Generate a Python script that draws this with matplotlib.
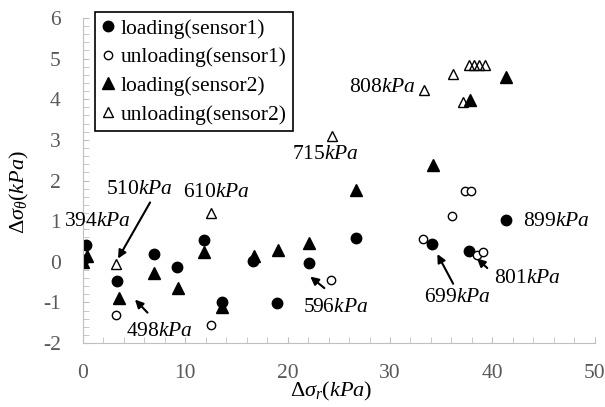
import matplotlib
matplotlib.use("Agg")
import matplotlib.pyplot as plt
from matplotlib.ticker import MultipleLocator

plt.rcParams["font.family"] = "Liberation Serif"
plt.rcParams["mathtext.fontset"] = "custom"
plt.rcParams["mathtext.rm"] = "Liberation Serif"
plt.rcParams["mathtext.it"] = "Liberation Serif:italic"
plt.rcParams["axes.unicode_minus"] = False

# data
s1_load_x = [0, 0.3, 3.3, 6.9, 9.2, 11.8, 13.6, 16.6, 19.0, 22.1, 26.7, 34.1, 37.7, 41.3]
s1_load_y = [0.05, 0.42, -0.46, 0.2, -0.13, 0.54, -1.0, 0.02, -1.02, -0.03, 0.58, 0.45, 0.27, 1.03]
s1_unload_x = [3.2, 12.5, 24.2, 33.2, 36.1, 37.3, 37.9, 38.5, 39.1]
s1_unload_y = [-1.3, -1.55, -0.44, 0.55, 1.12, 1.75, 1.75, 0.17, 0.23]
s2_load_x = [0, 0.4, 3.5, 6.9, 9.3, 11.8, 13.6, 16.7, 19.1, 22.1, 26.7, 34.2, 37.8, 41.3]
s2_load_y = [0.0, 0.15, -0.9, -0.28, -0.65, 0.23, -1.12, 0.15, 0.3, 0.47, 1.77, 2.37, 3.98, 4.55]
s2_unload_x = [3.2, 12.5, 24.3, 33.3, 36.2, 37.1, 37.7, 38.2, 38.7, 39.3]
s2_unload_y = [-0.05, 1.21, 3.1, 4.23, 4.62, 3.94, 4.84, 4.84, 4.84, 4.84]

# pressure labels: text, position
labels = ["394", "510", "610", "498", "715", "808", "596", "699", "801", "899"]
label_x = [1.4, 5.5, 13.0, 7.5, 23.7, 29.3, 24.7, 36.6, 43.4, 46.3]
label_y = [0.98, 1.77, 1.7, -1.72, 2.63, 4.3, -1.13, -0.88, -0.4, 0.99]
# arrows: tail -> head
arrow_tail = [(6.7, 1.52), (6.5, -1.3), (23.8, -0.69), (36.3, -0.6), (39.7, -0.2)]
arrow_head = [(3.3, 0.02), (4.9, -0.88), (22.0, -0.32), (34.5, 0.25), (38.3, 0.13)]

fig = plt.figure(figsize=(6.05, 4.07), dpi=100)
ax = fig.add_axes([0.137, 0.157, 0.846, 0.799])

ax.plot(s1_load_x, s1_load_y, "o", color="black", ms=7.5, label="loading(sensor1)")
ax.plot(s1_unload_x, s1_unload_y, "o", mfc="white", mec="black", ms=6, mew=1,
        label="unloading(sensor1)")
ax.plot(s2_load_x, s2_load_y, "^", color="black", ms=8, label="loading(sensor2)")
ax.plot(s2_unload_x, s2_unload_y, "^", mfc="none", mec="black", ms=7, mew=1,
        label="unloading(sensor2)")

for t, x, y in zip(labels, label_x, label_y):
    ax.text(x, y, t + "$kPa$", fontsize=15.5, ha="center", va="center", clip_on=False)

for tail, head in zip(arrow_tail, arrow_head):
    ax.annotate("", xy=head, xytext=tail,
                arrowprops=dict(arrowstyle="-|>", color="black", lw=1.5, mutation_scale=12))

ax.set_xlim(0, 50)
ax.set_ylim(-2, 6)
ax.xaxis.set_major_locator(MultipleLocator(10))
ax.xaxis.set_minor_locator(MultipleLocator(2))
ax.yaxis.set_major_locator(MultipleLocator(1))
ax.yaxis.set_minor_locator(MultipleLocator(0.2))

gray = "#bfbfbf"
for side in ["top", "right"]:
    ax.spines[side].set_visible(False)
for side in ["left", "bottom"]:
    ax.spines[side].set_color(gray)
ax.tick_params(which="both", direction="in", color=gray, length=4, labelcolor="#595959",
               labelsize=15.5)
ax.tick_params(axis="x", pad=15)
ax.tick_params(axis="y", pad=16)

ax.set_xlabel(r"$\Delta\sigma_r(kPa)$", fontsize=16, va="center")
ax.xaxis.set_label_coords(0.485, -0.148)
ax.set_ylabel(r"$\Delta\sigma_\theta(kPa)$", fontsize=16, va="center")
ax.yaxis.set_label_coords(-0.123, 0.465)

leg = ax.legend(loc="upper left", bbox_to_anchor=(95 / 605, 1 - 12 / 407),
                bbox_transform=fig.transFigure, borderaxespad=0, fancybox=False,
                edgecolor="black", fontsize=15.5, handlelength=0.6, handletextpad=0.3,
                labelspacing=0.4, borderpad=0.3, framealpha=1)
leg.get_frame().set_linewidth(1.2)

fig.savefig("out.png", dpi=100)
